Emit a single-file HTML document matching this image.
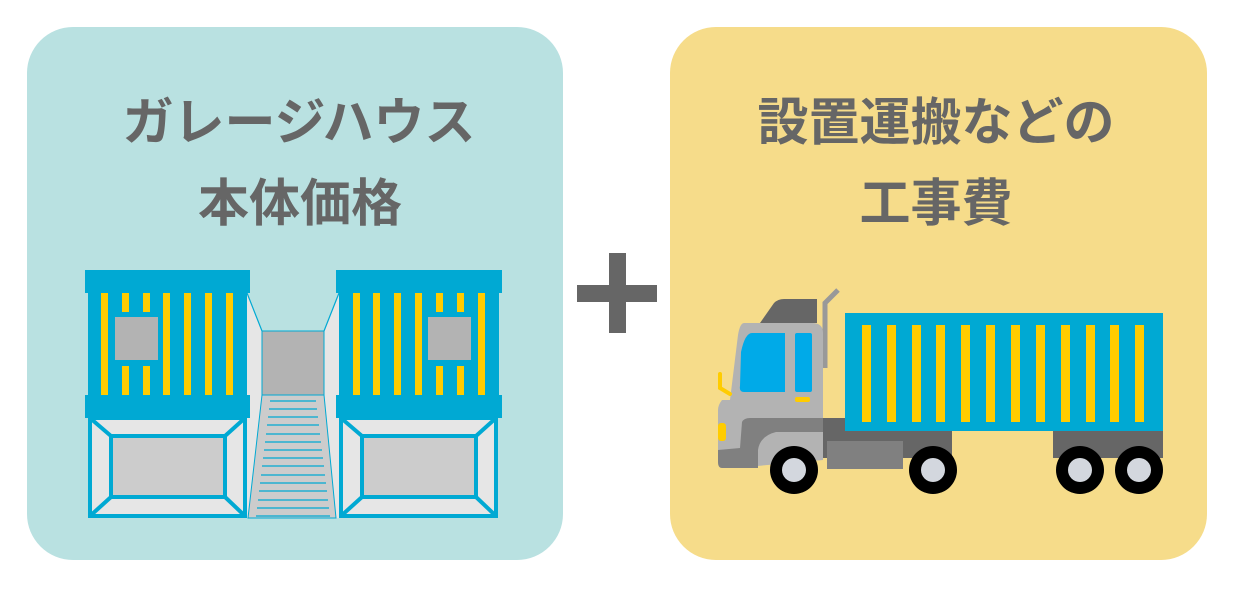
<!DOCTYPE html>
<html><head><meta charset="utf-8"><style>
html,body{margin:0;padding:0;background:#fff;}
svg{display:block}
text{font-family:"Liberation Sans","Noto Sans CJK JP",sans-serif;font-weight:bold;fill:#666;}
</style></head><body>
<svg width="1240" height="596" viewBox="0 0 1240 596" xmlns="http://www.w3.org/2000/svg">
<rect x="27" y="27" width="536" height="533" rx="46" fill="#b9e1e1"/>
<rect x="670" y="27" width="537" height="533" rx="46" fill="#f6dc8a"/>
<text x="299" y="140" font-size="51" text-anchor="middle">ガレージハウス</text>
<text x="300" y="221" font-size="51" text-anchor="middle">本体価格</text>
<text x="936" y="140" font-size="51" text-anchor="middle">設置運搬などの</text>
<text x="936" y="221" font-size="51" text-anchor="middle">工事費</text>
<rect x="577" y="285" width="80" height="17" fill="#666"/>
<rect x="609" y="253" width="17" height="80" fill="#666"/>

<!-- garage middle -->
<polygon points="247,293 262,331 262,518 247,518" fill="#e6e6e6"/>
<polygon points="339,293 324,331 324,518 339,518" fill="#e6e6e6"/>
<line x1="247" y1="293" x2="262" y2="331" stroke="#00a9d3" stroke-width="1.2"/>
<line x1="339" y1="293" x2="324" y2="331" stroke="#00a9d3" stroke-width="1.2"/>
<rect x="262" y="331" width="62" height="64" fill="#b3b3b3" stroke="#00a9d3" stroke-width="1"/>
<polygon points="262,395 324,395 336,518 248,518" fill="#cccccc" stroke="#00a9d3" stroke-width="1"/>
<g stroke="#00a9d3" stroke-width="1.2">
<line x1="270" y1="401" x2="316" y2="401"/><line x1="269" y1="409" x2="317" y2="409"/>
<line x1="268" y1="417" x2="318" y2="417"/><line x1="267" y1="425" x2="319" y2="425"/>
<line x1="266" y1="434" x2="320" y2="434"/><line x1="265" y1="442" x2="321" y2="442"/>
<line x1="264" y1="450" x2="322" y2="450"/><line x1="263" y1="458" x2="323" y2="458"/>
<line x1="262" y1="466" x2="324" y2="466"/><line x1="261" y1="475" x2="325" y2="475"/>
<line x1="260" y1="483" x2="326" y2="483"/><line x1="259" y1="491" x2="327" y2="491"/>
<line x1="258" y1="500" x2="328" y2="500"/><line x1="257" y1="508" x2="329" y2="508"/>
<line x1="256" y1="516" x2="330" y2="516"/>
</g>

<!-- left container -->
<g>
<rect x="88" y="293" width="159" height="102" fill="#00a9d3"/>
<rect x="85" y="270" width="165" height="23" fill="#00a9d3"/>
<g fill="#ffcc00">
<rect x="101" y="293" width="7" height="103"/>
<rect x="122" y="293" width="7" height="19"/><rect x="122" y="366" width="7" height="30"/>
<rect x="143" y="293" width="7" height="19"/><rect x="143" y="366" width="7" height="30"/>
<rect x="163" y="293" width="7" height="103"/><rect x="184" y="293" width="7" height="103"/>
<rect x="205" y="293" width="7" height="103"/><rect x="226" y="293" width="7" height="103"/>
</g>
<rect x="115" y="317" width="43" height="43" fill="#b3b3b3"/>
<rect x="85" y="395" width="165" height="23" fill="#00a9d3"/>
<rect x="90" y="418" width="155" height="98" fill="#e6e6e6" stroke="#00a9d3" stroke-width="4"/>
<g stroke="#00a9d3" stroke-width="4"><line x1="90" y1="418" x2="111" y2="436"/><line x1="245" y1="418" x2="225" y2="436"/><line x1="90" y1="516" x2="111" y2="497"/><line x1="245" y1="516" x2="225" y2="497"/></g>
<rect x="111" y="436" width="114" height="61" fill="#cccccc" stroke="#00a9d3" stroke-width="4"/>
</g>
<!-- right container -->
<g>
<rect x="339" y="293" width="160" height="102" fill="#00a9d3"/>
<rect x="336" y="270" width="166" height="23" fill="#00a9d3"/>
<g fill="#ffcc00">
<rect x="353" y="293" width="7" height="103"/><rect x="373" y="293" width="7" height="103"/>
<rect x="394" y="293" width="7" height="103"/><rect x="415" y="293" width="7" height="103"/>
<rect x="436" y="293" width="7" height="19"/><rect x="436" y="366" width="7" height="30"/>
<rect x="457" y="293" width="7" height="19"/><rect x="457" y="366" width="7" height="30"/>
<rect x="478" y="293" width="7" height="103"/>
</g>
<rect x="428" y="317" width="43" height="43" fill="#b3b3b3"/>
<rect x="336" y="395" width="166" height="23" fill="#00a9d3"/>
<rect x="341" y="418" width="155" height="98" fill="#e6e6e6" stroke="#00a9d3" stroke-width="4"/>
<g stroke="#00a9d3" stroke-width="4"><line x1="341" y1="418" x2="362" y2="436"/><line x1="496" y1="418" x2="476" y2="436"/><line x1="341" y1="516" x2="362" y2="497"/><line x1="496" y1="516" x2="476" y2="497"/></g>
<rect x="362" y="436" width="114" height="61" fill="#cccccc" stroke="#00a9d3" stroke-width="4"/>
</g>

<!-- truck -->
<polyline points="825,368 825,303 838,290" fill="none" stroke="#999" stroke-width="5"/>
<path d="M760,323 L774,303 Q778,299 784,299 L817,299 L817,323 Z" fill="#666"/>
<rect x="823" y="418" width="129" height="40" fill="#666"/>
<rect x="1053" y="431" width="110" height="27" fill="#666"/>
<path d="M744,323 L812,323 Q823,323 823,333 L823,460 L735,468 Q718,468 718,458 L718,410 Q718,405 722,400 L730,400 L738,335 Q740,323 744,323 Z" fill="#b3b3b3"/>
<path d="M718,450 L740,448 L742,422 Q744,418 750,418 L823,418 L823,432 L776,432 Q760,436 758,450 L758,468 L722,468 Q718,468 718,462 Z" fill="#808080"/>
<path d="M741,352 Q745,333 752,333 L785,333 L785,392 L744,392 Q739,392 740,386 Z" fill="#00aae8"/>
<rect x="795" y="333" width="17" height="59" rx="2" fill="#00aae8"/>
<rect x="795" y="397" width="15" height="5" rx="2" fill="#ffcc00"/>
<path d="M720,374 L720,388 L730,394" fill="none" stroke="#ffcc00" stroke-width="4" stroke-linecap="round"/>
<rect x="718" y="423" width="8" height="18" rx="3" fill="#ffcc00"/>
<rect x="827" y="441" width="76" height="28" fill="#808080"/>
<rect x="845" y="313" width="318" height="118" fill="#00a9d3"/>
<g fill="#ffcc00">
<rect x="862" y="325" width="9" height="97"/><rect x="887" y="325" width="9" height="97"/>
<rect x="912" y="325" width="9" height="97"/><rect x="936" y="325" width="9" height="97"/>
<rect x="961" y="325" width="9" height="97"/><rect x="986" y="325" width="9" height="97"/>
<rect x="1011" y="325" width="9" height="97"/><rect x="1036" y="325" width="9" height="97"/>
<rect x="1061" y="325" width="9" height="97"/><rect x="1086" y="325" width="9" height="97"/>
<rect x="1110" y="325" width="9" height="97"/><rect x="1135" y="325" width="9" height="97"/>
</g>
<g fill="#000"><circle cx="794" cy="470" r="24"/><circle cx="933" cy="470" r="24"/><circle cx="1080" cy="470" r="24"/><circle cx="1139" cy="470" r="24"/></g>
<g fill="#d3d7de"><circle cx="794" cy="470" r="12"/><circle cx="933" cy="470" r="12"/><circle cx="1080" cy="470" r="12"/><circle cx="1139" cy="470" r="12"/></g>
</svg>
</body></html>
